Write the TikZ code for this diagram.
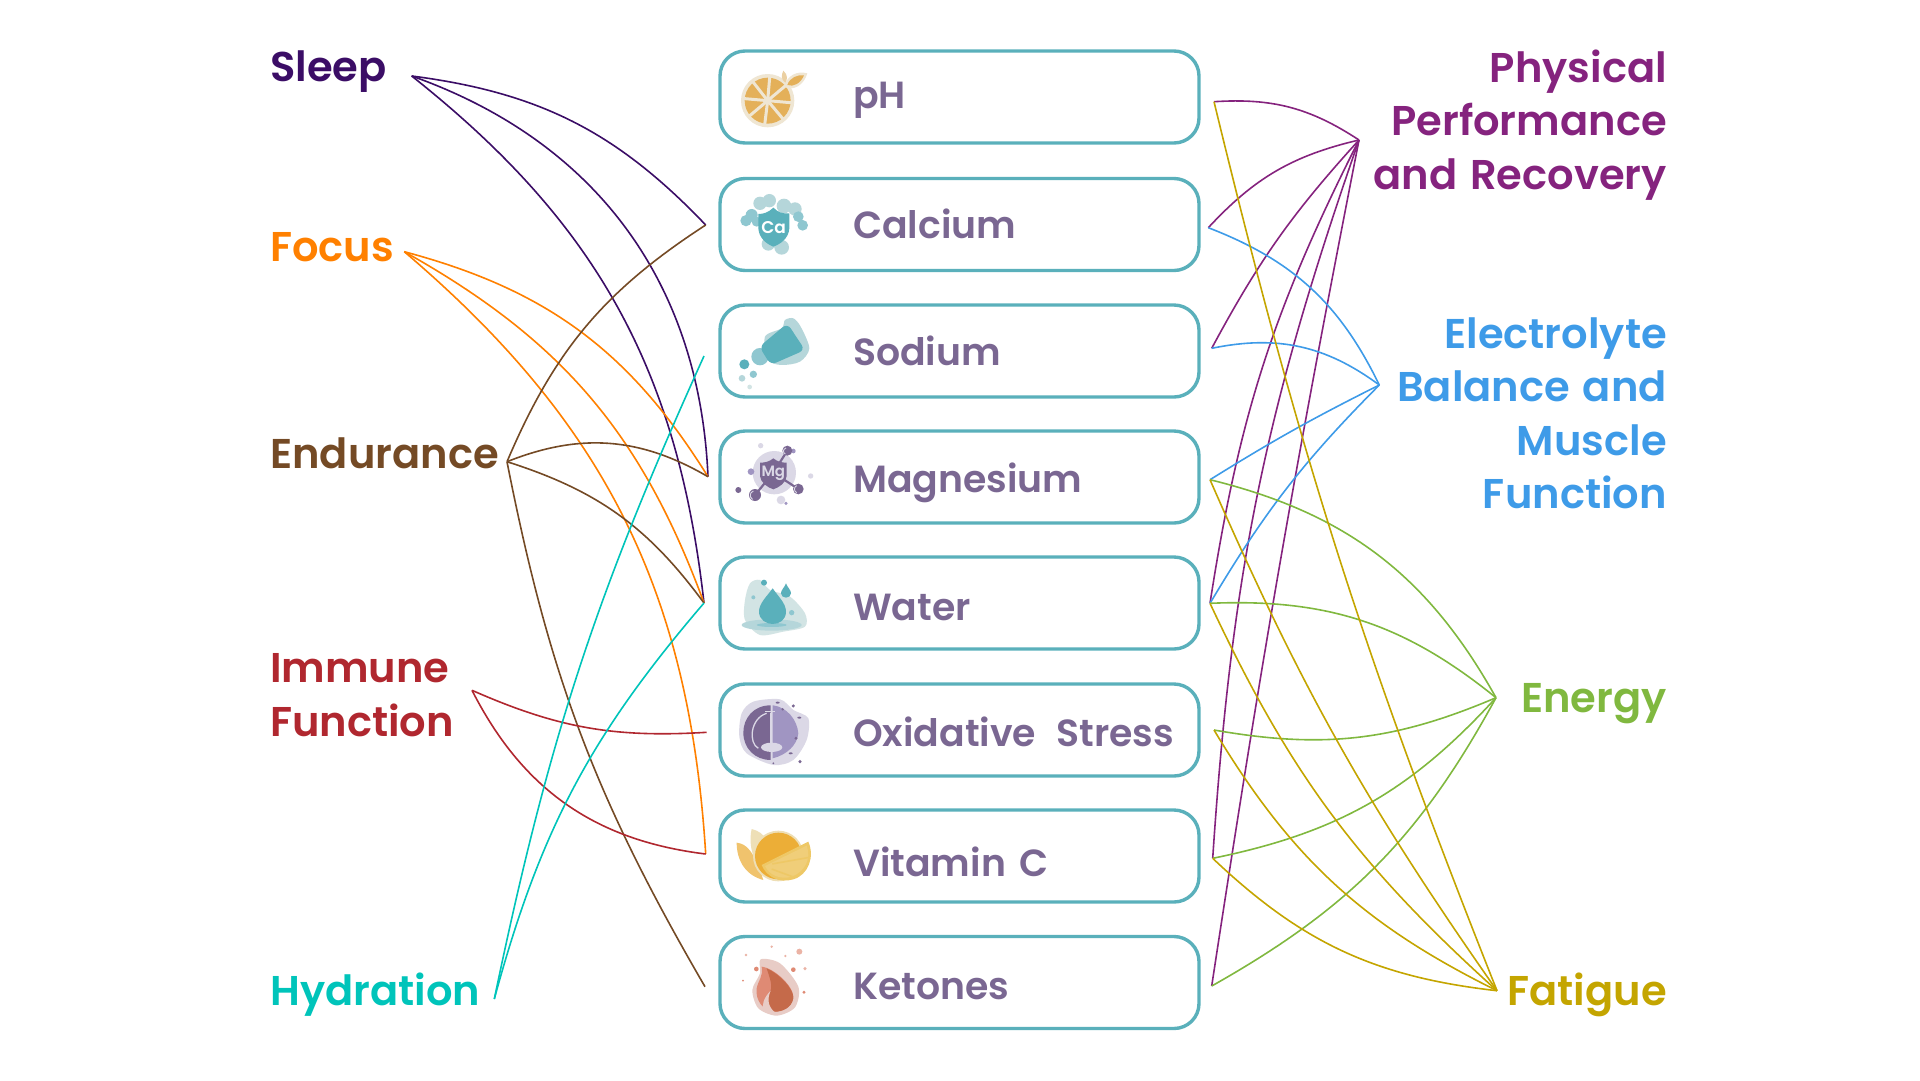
\documentclass[tikz,border=0pt]{standalone}
\usepackage{fontspec}
\setmainfont{Poppins SemiBold}[WordSpace=1.5]
\newfontfamily\heavyfont{Poppins SemiBold}[WordSpace=1.3]
\definecolor{tealbox}{HTML}{5AB0BB}
\definecolor{tealmid}{HTML}{8FC7D0}
\definecolor{teallight}{HTML}{B5D6DA}
\definecolor{tealpale}{HTML}{D2E4E4}
\definecolor{plum}{HTML}{7A6792}
\definecolor{plummid}{HTML}{A095C2}
\definecolor{plumlight}{HTML}{DBD8E6}
\definecolor{creamy}{HTML}{EFE6D3}
\definecolor{peel}{HTML}{E4B059}
\definecolor{vcorange}{HTML}{ECAE37}
\definecolor{vcwedge}{HTML}{F0CE79}
\definecolor{vcrim}{HTML}{EEC866}
\definecolor{vcleaf}{HTML}{F0C36D}
\definecolor{vccream}{HTML}{EEDFB6}
\definecolor{flamepale}{HTML}{E8CCC6}
\definecolor{flamedot}{HTML}{EBB3A5}
\definecolor{flamemid}{HTML}{DF8A74}
\definecolor{flamedeep}{HTML}{C56A4A}
\definecolor{csleep}{HTML}{3B0D66}
\definecolor{cfocus}{HTML}{FF8000}
\definecolor{cendu}{HTML}{744A25}
\definecolor{cimmu}{HTML}{B0272F}
\definecolor{chydr}{HTML}{00C4BA}
\definecolor{cphys}{HTML}{85237E}
\definecolor{celec}{HTML}{3E9BE8}
\definecolor{cener}{HTML}{80B83F}
\definecolor{cfati}{HTML}{C4A500}
\tikzset{
  nutrient/.style={draw=tealbox,line width=3.4pt,rounded corners=25pt,fill=white,minimum width=479pt,minimum height=92pt,inner sep=0pt},
  nutlabel/.style={anchor=base west,inner sep=0pt,text=plum,font=\fontsize{37.8}{37.8}\selectfont},
  goalleft/.style={anchor=base west,inner sep=0pt,align=left,font=\heavyfont\fontsize{41.6}{53.3}\selectfont},
  goalright/.style={anchor=base east,inner sep=0pt,align=right,font=\heavyfont\fontsize{41.6}{53.3}\selectfont},
  link/.style={line width=1.6pt,draw=#1},
  zc/.style 2 args={shift={(#1,#2)},x=0.3333pt,y=-0.3333pt},
}
\begin{document}
\begin{tikzpicture}[x=1pt,y=-1pt]
\useasboundingbox (0,0) rectangle (1920,1080);
% boxes
\node[nutrient] (bph) at (959.5,97) {};
\node[nutrient] (bca) at (959.5,224.5) {};
\node[nutrient] (bna) at (959.5,351) {};
\node[nutrient] (bmg) at (959.5,477) {};
\node[nutrient] (bwa) at (959.5,603) {};
\node[nutrient] (box) at (959.5,730) {};
\node[nutrient] (bvc) at (959.5,856) {};
\node[nutrient] (bke) at (959.5,982.5) {};
% box labels
\node[nutlabel] (tph) at (853,108) {pH};
\node[nutlabel] (tca) at (853,238) {Calcium};
\node[nutlabel] (tna) at (853,365) {Sodium};
\node[nutlabel] (tmg) at (853,492.7) {Magnesium};
\node[nutlabel] (twa) at (853,620) {Water};
\node[nutlabel] (tox) at (853,746.7) {Oxidative\hspace{7pt} Stress};
\node[nutlabel] (tvc) at (853,876.7) {Vitamin C};
\node[nutlabel] (tke) at (853,999) {Ketones};
% side labels
\node[goalleft,text=csleep] (lsl) at (270,81) {Sleep};
\node[goalleft,text=cfocus] (lfo) at (270,261.7) {Focus};
\node[goalleft,text=cendu] (len) at (270,468.3) {Endurance};
\node[goalleft,text=cimmu] (lim) at (270,736) {Immune\\Function};
\node[goalleft,text=chydr] (lhy) at (270,1005) {Hydration};
\node[goalright,text=cphys] (rph) at (1667,189) {Physical\\Performance\\and Recovery};
\node[goalright,text=celec] (rel) at (1667,508.3) {Electrolyte\\Balance and\\Muscle\\Function};
\node[goalright,text=cener] (ren) at (1667,712.7) {Energy};
\node[goalright,text=cfati] (rfa) at (1667,1005) {Fatigue};
% hubs
\coordinate (hsl) at (411.7,76);
\coordinate (hfo) at (404.3,251.7);
\coordinate (hen) at (507,461.7);
\coordinate (him) at (472,690.3);
\coordinate (hhy) at (494.3,999);
\coordinate (hph) at (1359,140);
\coordinate (hel) at (1379.3,385);
\coordinate (her) at (1496,697.7);
\coordinate (hfa) at (1497,990.7);
% left ports
\coordinate (lca) at (705.7,225);
\coordinate (lna) at (704,356);
\coordinate (lmg) at (708,476.7);
\coordinate (lwa) at (704,603);
\coordinate (lox) at (706.7,732.3);
\coordinate (lvc) at (705.7,854);
\coordinate (lke) at (705,986.7);
% right ports
\coordinate (pph) at (1214,101.7);
\coordinate (pca) at (1208.3,227.7);
\coordinate (pna) at (1211.7,348.3);
\coordinate (pmg) at (1210,479.7);
\coordinate (pwa) at (1210,603.3);
\coordinate (pox) at (1214,730);
\coordinate (pvc) at (1212.7,858.3);
\coordinate (pke) at (1211.7,986);
% left links
\draw[link=csleep] (hsl) to[bend left=19.5] (lca);
\draw[link=csleep] (hsl) to[bend left=34] (lmg);
\draw[link=csleep] (hsl) to[bend left=22.6] (lwa);
\draw[link=cfocus] (hfo) to[bend left=21.6] (lmg);
\draw[link=cfocus] (hfo) to[bend left=20.3] (lwa);
\draw[link=cfocus] (hfo) to[bend left=23] (lvc);
\draw[link=cendu] (hen) to[bend left=17] (lca);
\draw[link=cendu] (hen) to[bend left=26] (lmg);
\draw[link=cendu] (hen) to[bend left=18] (lwa);
\draw[link=cendu] (hen) to[bend right=9.5] (lke);
\draw[link=cimmu] (him) to[bend right=13.6] (lox);
\draw[link=cimmu] (him) to[bend right=28] (lvc);
\draw[link=chydr] (hhy) to[bend left=6.3] (lna);
\draw[link=chydr] (hhy) to[bend left=12.7] (lwa);
% right links
\draw[link=cphys] (pph) to[bend left=18.5] (hph);
\draw[link=cphys] (pca) to[bend left=17] (hph);
\draw[link=cphys] (pna) to[bend left=7] (hph);
\draw[link=cphys] (pwa) to[bend left=9] (hph);
\draw[link=cphys] (pvc) to[bend left=7.7] (hph);
\draw[link=cphys] (pke) to[bend left=1.2] (hph);
\draw[link=celec] (pca) to[bend left=21.5] (hel);
\draw[link=celec] (pna) to[bend left=24] (hel);
\draw[link=celec] (pmg) to[bend left=2.6] (hel);
\draw[link=celec] (pwa) to[bend left=7] (hel);
\draw[link=cener] (pmg) to[bend left=23.5] (her);
\draw[link=cener] (pwa) to[bend left=20.7] (her);
\draw[link=cener] (pox) to[bend right=16.5] (her);
\draw[link=cener] (pvc) to[bend right=18] (her);
\draw[link=cener] (pke) to[bend right=16] (her);
\draw[link=cfati] (pph) to[bend right=4] (hfa);
\draw[link=cfati] (pmg) to[bend right=5.7] (hfa);
\draw[link=cfati] (pwa) to[bend right=11.4] (hfa);
\draw[link=cfati] (pox) to[bend right=16.3] (hfa);
\draw[link=cfati] (pvc) to[bend right=18.5] (hfa);
% icon pH
\begin{scope}[zc={710}{40}]
\fill[creamy] (173,182) circle (80);
\fill[peel] (173,182) circle (69);
\foreach \a in {5,50,97,140,185,232,275,320} \draw[creamy,line width=3pt] (173,182) -- ++(\a:72);
\fill[creamy] (173,182) circle (12);
\fill[creamy] (222,140) .. controls (232,105) and (262,92) .. (292,100) .. controls (282,135) and (250,155) .. (222,140) -- cycle;
\fill[peel] (232,135) .. controls (240,112) and (262,104) .. (282,106) .. controls (272,130) and (250,142) .. (232,135) -- cycle;
\fill[creamy!60!peel] (220,92) .. controls (235,105) and (232,120) .. (226,128) .. controls (212,118) and (214,105) .. (220,92) -- cycle;
\end{scope}
% icon Ca
\begin{scope}[zc={710}{40}]
\fill[teallight] (150,490) circle (20) (178,482) circle (20) (222,498) circle (22) (255,507) circle (20) (215,622) circle (22) (175,612) circle (20);
\fill[tealmid] (125,525) circle (18) (108,542) circle (17) (265,530) circle (16) (278,556) circle (16) (140,545) circle (15);
\fill[tealbox] (190,503) .. controls (175,518) and (160,522) .. (145,522) -- (145,565) .. controls (147,595) and (170,612) .. (190,620) .. controls (212,612) and (236,595) .. (238,565) -- (238,520) .. controls (220,522) and (205,518) .. (190,503) -- cycle;
\node[inner sep=0pt,text=white,font=\heavyfont\fontsize{17}{17}\selectfont] (ica) at (191,563) {Ca};
\end{scope}
% icon Na
\begin{scope}[zc={710}{40}]
\fill[teallight] plot[smooth cycle] coordinates {(165,890) (215,865) (225,840) (250,835) (272,860) (298,925) (270,965) (215,975) (175,960)};
\fill[tealmid] (150,950) circle (26);
\fill[tealbox,rounded corners=6pt] (148,920) -- (232,850) -- (285,930) -- (182,975) -- cycle;
\fill[tealbox] (103,973) circle (15);
\fill[tealmid] (130,1003) circle (11);
\fill[teallight] (96,1015) circle (10);
\fill[tealpale] (119,1041) circle (7);
\end{scope}
% icon Mg
\begin{scope}[zc={710}{420}]
\fill[plumlight] (193,158) circle (65) (152,77) circle (8) (302,168) circle (8) (213,240) circle (13);
\fill[plummid] (123,155) circle (10) (228,250) circle (5) (250,93) circle (7);
\fill[plum] (85,210) circle (9);
\draw[plum,line width=2.2pt] (232,92) -- (190,158) -- (135,225) (190,158) -- (265,207);
\fill[plum] (232,92) circle (15) (135,225) circle (18) (265,207) circle (16);
\draw[plumlight,line width=0.9pt] (228,84) .. controls (218,88) and (218,98) .. (226,102);
\draw[plumlight,line width=0.9pt] (130,213) .. controls (118,218) and (118,232) .. (128,238);
\draw[plumlight,line width=0.9pt] (260,197) .. controls (250,202) and (252,214) .. (260,218);
\fill[plum] (190,115) .. controls (178,125) and (165,128) .. (150,128) -- (150,168) .. controls (152,188) and (172,202) .. (190,208) .. controls (208,202) and (228,188) .. (230,168) -- (230,128) .. controls (215,128) and (202,125) .. (190,115) -- cycle;
\node[inner sep=0pt,text=plumlight,font=\heavyfont\fontsize{15}{15}\selectfont] (img) at (190,160) {Mg};
\end{scope}
% icon water
\begin{scope}[zc={710}{420}]
\fill[tealpale] plot[smooth cycle] coordinates {(120,490) (150,480) (180,510) (240,530) (285,580) (285,620) (220,635) (150,645) (105,600) (105,540)};
\fill[teallight] (185,615) ellipse (90 and 17);
\fill[tealmid] (185,615) ellipse (45 and 6);
\fill[tealbox] (188,505) .. controls (170,530) and (147,550) .. (147,575) .. controls (147,600) and (170,612) .. (188,612) .. controls (208,612) and (228,600) .. (228,575) .. controls (228,550) and (205,530) .. (188,505) -- cycle;
\fill[tealbox] (228,490) .. controls (222,505) and (213,510) .. (213,520) .. controls (213,528) and (220,533) .. (228,533) .. controls (236,533) and (243,528) .. (243,520) .. controls (243,510) and (234,505) .. (228,490) -- cycle;
\fill[tealbox] (162,488) circle (9);
\fill[tealmid] (245,578) circle (8) (130,532) circle (6);
\end{scope}
% icon oxidative
\begin{scope}[zc={710}{420}]
\fill[plumlight] plot[smooth cycle] coordinates {(130,845) (210,838) (250,870) (295,895) (290,960) (250,1020) (190,1035) (110,1000) (88,950) (95,880)};
\fill[plum] (182,856) .. controls (130,856) and (100,895) .. (100,938) .. controls (100,985) and (135,1020) .. (182,1020) -- cycle;
\fill[plummid] (188,856) .. controls (230,860) and (262,900) .. (265,940) .. controls (262,975) and (230,1005) .. (188,1015) -- cycle;
\draw[plumlight,line width=1.3pt] (170,880) .. controls (120,895) and (115,970) .. (145,985);
\draw[plumlight,line width=1pt] (182,878) -- (182,975) (165,876) -- (195,876);
\fill[plumlight] (185,982) ellipse (32 and 14);
\fill[plum] (203,848) ellipse (6 and 3) (250,858) circle (5) (218,868) circle (4) (268,893) ellipse (6 and 3) (258,955) circle (5) (242,1000) ellipse (6 and 3) (190,1030) circle (3) (270,1025) circle (5);
\end{scope}
% icon vitamin C
\begin{scope}[zc={710}{800}]
\fill[vcleaf] (80,128) .. controls (110,132) and (130,150) .. (160,240) .. controls (105,225) and (80,180) .. (80,128) -- cycle;
\fill[vccream] (125,87) .. controls (145,92) and (160,102) .. (170,120) -- (135,180) .. controls (122,150) and (118,120) .. (125,87) -- cycle;
\fill[vccream] (205,168) circle (76);
\fill[vcorange] (205,168) circle (70);
\fill[vcrim] (155,195) -- (295,125) .. controls (315,170) and (295,225) .. (250,238) .. controls (210,250) and (170,232) .. (155,195) -- cycle;
\begin{scope}
\clip (165,198) -- (290,137) .. controls (305,175) and (285,215) .. (245,230) .. controls (210,240) and (178,225) .. (165,198) -- cycle;
\fill[vcwedge] (150,120) rectangle (310,250);
\foreach \a in {-10,20,50,85} \draw[vcrim,line width=1.6pt] (157,197) ++(\a:30) -- ++(\a:130);
\end{scope}
\end{scope}
% icon ketones
\begin{scope}[zc={710}{800}]
\fill[flamepale] plot[smooth cycle] coordinates {(152,478) (210,490) (265,560) (255,622) (200,647) (145,625) (127,570) (150,520)};
\fill[flamemid] (155,500) .. controls (195,505) and (250,560) .. (250,590) .. controls (245,625) and (215,635) .. (195,635) .. controls (160,635) and (135,600) .. (140,565) .. controls (145,540) and (160,530) .. (155,500) -- cycle;
\fill[flamedeep] (170,505) .. controls (205,520) and (252,565) .. (250,595) .. controls (245,625) and (215,635) .. (195,635) .. controls (175,625) and (170,600) .. (180,575) .. controls (190,560) and (178,530) .. (170,505) -- cycle;
\fill[flamepale] (160,635) -- (195,638) .. controls (175,620) and (170,600) .. (182,572) .. controls (160,595) and (155,615) .. (160,635) -- cycle;
\fill[flamedot] (268,455) circle (9) (185,440) circle (4) (108,465) circle (4) (226,468) circle (4) (285,506) circle (5);
\fill[flamemid] (139,507) circle (7) (250,509) circle (7) (99,542) circle (3) (282,577) circle (5);
\end{scope}
\end{tikzpicture}
\end{document}
